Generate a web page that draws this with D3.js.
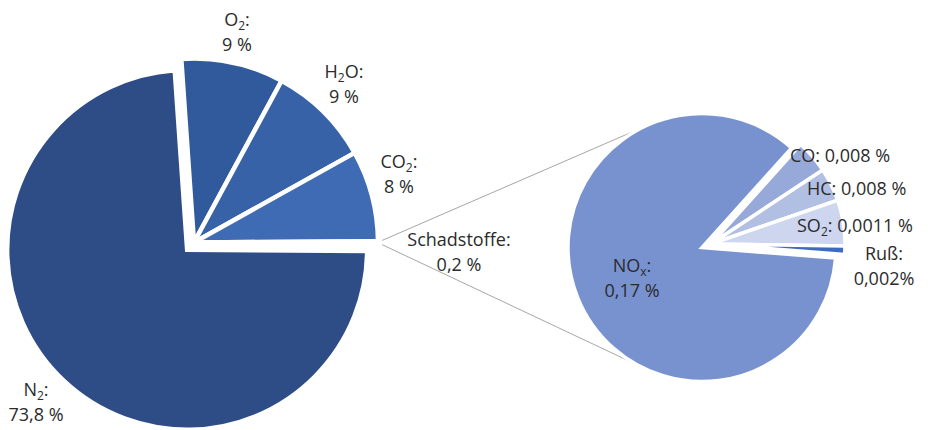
<!DOCTYPE html>
<html><head><meta charset="utf-8">
<script src="https://cdn.jsdelivr.net/npm/d3@7"></script>
<style>
body{margin:0;background:#fff}
text{font-family:"Open Sans",sans-serif;font-size:18px;fill:#2b2b2b}
</style>
</head><body><svg id="c" width="936" height="430"></svg>
<script>
// ---------- data ----------
const mainCategories = ["N2", "O2", "H2O", "CO2", "Schadstoffe"];
const mainValues = [73.8, 9, 9, 8, 0.2];
const mainLabels = [["N_2:", "73,8 %"], ["O_2:", "9 %"], ["H_2O:", "9 %"], ["CO_2:", "8 %"], ["Schadstoffe:", "0,2 %"]];

const subCategories = ["CO", "HC", "SO2", "Ruß", "NOx"];
const subValues = [0.008, 0.008, 0.011, 0.002, 0.17];
const subLabels = [["CO: 0,008 %"], ["HC: 0,008 %"], ["SO_2: 0,0011 %"], ["Ruß:", "0,002%"], ["NO_x:", "0,17 %"]];

// ---------- layout / style ----------
const W = 936, H = 430;
const deg = Math.PI / 180;
const mainColors = ["#2e4d87", "#305a9c", "#3762a8", "#3f6bb5", "#dfe6f3"];
const subColors = ["#97a9d8", "#b1bfe3", "#cdd6ee", "#3d6bc2", "#7892d0"];
const mainCenter = [194, 242.5];
const mainRadius = [180, 184, 184, 184, 184];
const mainExplode = [10, 0, 0, 0, 2];
const subCenter = [711, 244];
const subRadius = 134;
const subExplode = [0, 0, 0, 0, 9.7];
const subStart = 42 * deg;
const connectorAngles = [334 * deg, 209 * deg];
const mainLabelPos = [[36, 396, "middle"], [237, 26, "middle"], [344, 78, "middle"], [399, 168, "middle"], [459, 246, "middle"]];
const subLabelPos = [[790, 162, "start"], [807, 195, "start"], [797, 232, "start"], [884, 260, "middle"], [632, 272, "middle"]];
const lineH = 25, subShift = 4;

const svg = d3.select("#c");
svg.append("rect").attr("width", W).attr("height", H).attr("fill", "#fff");

function pt(c, r, a) { return [c[0] + r * Math.sin(a), c[1] - r * Math.cos(a)]; }

const mainSum = d3.sum(mainValues);
const mainStartA = Math.PI / 2 + Math.PI * mainValues[4] / mainSum;
const mainArcs = d3.pie().sort(null).value(d => d)
  .startAngle(mainStartA).endAngle(mainStartA + 2 * Math.PI)(mainValues);
const subArcs = d3.pie().sort(null).value(d => d)
  .startAngle(subStart).endAngle(subStart + 2 * Math.PI)(subValues);

function sliceCenter(base, a, e) {
  const m = (a.startAngle + a.endAngle) / 2;
  return [base[0] + e * Math.sin(m), base[1] - e * Math.cos(m)];
}

// connector lines
const sArc = mainArcs[4];
const sC = sliceCenter(mainCenter, sArc, mainExplode[4]);
const nArc = subArcs[4];
const nC = sliceCenter(subCenter, nArc, subExplode[4]);
const p1 = pt(sC, mainRadius[4], sArc.startAngle);
const p2 = pt(sC, mainRadius[4], sArc.endAngle);
const q1 = pt(nC, subRadius, connectorAngles[0]);
const q2 = pt(nC, subRadius, connectorAngles[1]);
svg.append("g").selectAll("line").data([[p1, q1], [p2, q2]]).join("line")
  .attr("x1", d => d[0][0]).attr("y1", d => d[0][1])
  .attr("x2", d => d[1][0]).attr("y2", d => d[1][1])
  .attr("stroke", "#a6a6a6").attr("stroke-width", 1);

svg.append("g").selectAll("path").data(mainArcs).join("path")
  .attr("transform", (d, i) => { const c = sliceCenter(mainCenter, d, mainExplode[i]); return `translate(${c[0]},${c[1]})`; })
  .attr("d", (d, i) => d3.arc().innerRadius(0).outerRadius(mainRadius[i])(d))
  .attr("fill", (d, i) => mainColors[i])
  .attr("stroke", "#fff").attr("stroke-width", 4.5).attr("stroke-linejoin", "miter");

svg.append("g").selectAll("path").data(subArcs).join("path")
  .attr("transform", (d, i) => { const c = sliceCenter(subCenter, d, subExplode[i]); return `translate(${c[0]},${c[1]})`; })
  .attr("d", d => d3.arc().innerRadius(0).outerRadius(subRadius)(d))
  .attr("fill", (d, i) => subColors[i])
  .attr("stroke", "#fff").attr("stroke-width", 3.5).attr("stroke-linejoin", "miter");

// one <text> per label; lines as tspans; "_" marks next char as subscript
function addLabel(lines, pos) {
  const t = svg.append("text").attr("text-anchor", pos[2]);
  lines.forEach((ln, li) => {
    const y0 = pos[1] + li * lineH;
    let first = true, shifted = false, buf = "", i = 0;
    const push = (s, sub) => {
      const ts = t.append("tspan").text(s);
      if (first) { ts.attr("x", pos[0]).attr("y", y0); first = false; }
      if (sub) { ts.attr("dy", subShift).style("font-size", "12px"); shifted = true; }
      else if (shifted) { ts.attr("dy", -subShift); shifted = false; }
    };
    while (i < ln.length) {
      if (ln[i] === "_") {
        if (buf) { push(buf, false); buf = ""; }
        push(ln[i + 1], true); i += 2;
      } else { buf += ln[i]; i++; }
    }
    if (buf) push(buf, false);
  });
}
mainLabels.forEach((l, i) => addLabel(l, mainLabelPos[i]));
subLabels.forEach((l, i) => addLabel(l, subLabelPos[i]));
</script>
</body></html>
